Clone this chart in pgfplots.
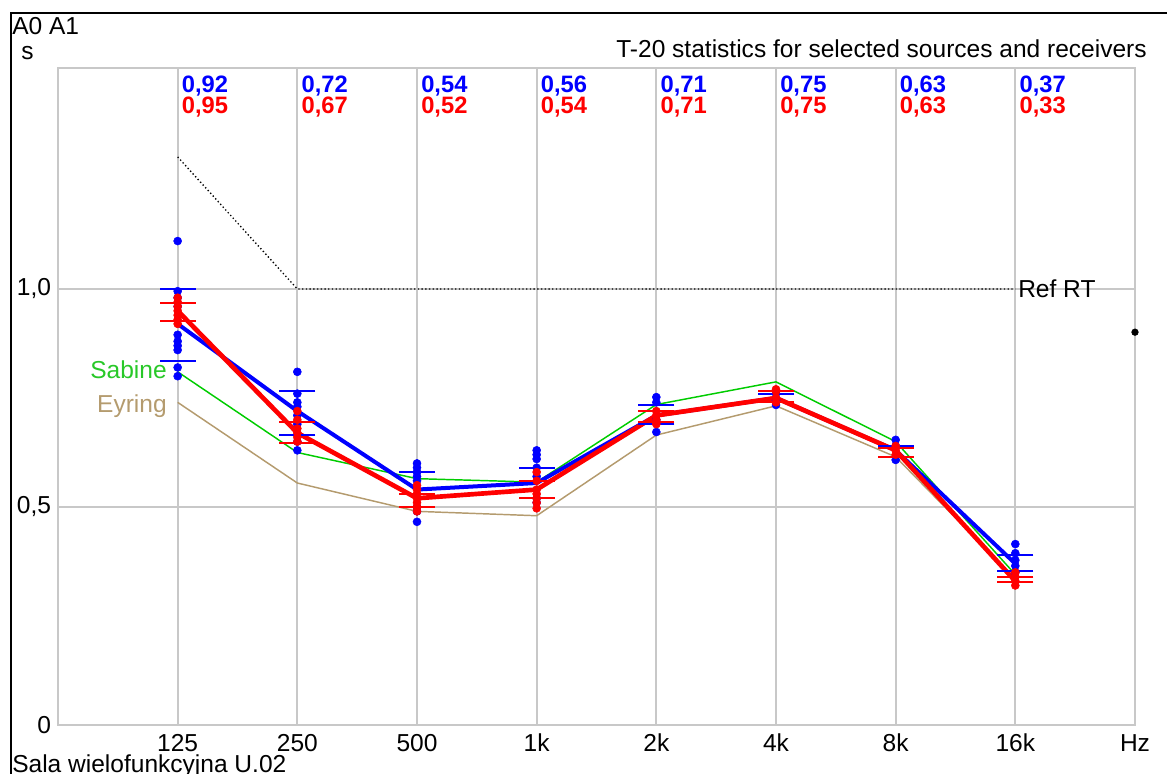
\documentclass[border=0pt]{standalone}
\usepackage{fontspec}
\setmainfont{Liberation Sans}
\usepackage{pgfplots}
\pgfplotsset{compat=1.18}
\definecolor{gridgray}{RGB}{200,200,200}
\definecolor{sabine}{RGB}{0,204,0}
\definecolor{eyring}{RGB}{180,155,110}
\definecolor{sabinetxt}{RGB}{40,200,40}
\definecolor{myblue}{RGB}{0,0,255}
\definecolor{myred}{RGB}{255,0,0}
\newcommand{\px}[2]{({(#1-58)*0.75pt},{(725-#2)*0.75pt})}
\newcommand{\fs}{\fontsize{18.4}{21}\selectfont}
\newcommand{\fb}{\fontsize{17.8}{20}\selectfont\bfseries}
\begin{document}
\begin{tikzpicture}[font=\fs]
\path[use as bounding box] \px{0}{0} rectangle \px{1167}{774};
\begin{axis}[
  at={(0,0)}, anchor=south west,
  scale only axis, width=807.75pt, height=492.75pt,
  xmin=0, xmax=9, ymin=0, ymax=1.5069,
  axis line style={gridgray, line width=1.3pt},
  grid=major, grid style={gridgray, line width=1.3pt},
  major tick length=0pt,
  xtick={1,2,3,4,5,6,7,8,9}, xticklabels={125,250,500,1k,2k,4k,8k,16k,Hz},
  ytick={0,0.5,1}, yticklabels={0,{0,5},{1,0}},
  x tick label style={anchor=base, yshift=-20pt, font=\fs},
  y tick label style={anchor=east, inner sep=0pt, xshift=-5pt, font=\fs},
  clip=false,
]
% Sabine and Eyring
\addplot[sabine, line width=1.1pt] coordinates {(1,0.81)(2,0.625)(3,0.565)(4,0.557)(5,0.735)(6,0.787)(7,0.65)(8,0.345)};
\addplot[eyring, line width=1.1pt] coordinates {(1,0.74)(2,0.555)(3,0.49)(4,0.48)(5,0.665)(6,0.732)(7,0.615)(8,0.335)};
% Reference RT
\addplot[black, line width=1pt, dash pattern=on 1pt off 1.8pt] coordinates {(1,1.303)(2,1.0)(8,1.0)};
% Blue (A0) measurements
\addplot[only marks, mark=*, mark size=3pt, myblue] coordinates {
 (1,1.11)(1,0.995)(1,0.98)(1,0.96)(1,0.895)(1,0.88)(1,0.87)(1,0.86)(1,0.82)(1,0.80)
 (2,0.81)(2,0.76)(2,0.74)(2,0.73)(2,0.71)(2,0.69)(2,0.65)(2,0.63)
 (3,0.60)(3,0.59)(3,0.58)(3,0.57)(3,0.56)(3,0.50)(3,0.49)(3,0.466)
 (4,0.63)(4,0.62)(4,0.61)(4,0.59)(4,0.57)(4,0.52)(4,0.51)
 (5,0.752)(5,0.74)(5,0.70)(5,0.672)
 (6,0.76)(6,0.745)(6,0.734)
 (7,0.654)(7,0.64)(7,0.608)
 (8,0.415)(8,0.394)(8,0.378)(8,0.365)(8,0.35)};
\addplot[only marks, mark=-, mark size=13.5pt, myblue, mark options={line width=1.5pt}] coordinates {
 (1,1.0)(1,0.835)(2,0.765)(2,0.665)(3,0.58)(3,0.50)(4,0.59)(4,0.52)
 (5,0.735)(5,0.69)(6,0.76)(6,0.74)(7,0.64)(7,0.615)(8,0.39)(8,0.353)};
\addplot[myblue, line width=3pt, line join=round] coordinates {(1,0.92)(2,0.72)(3,0.54)(4,0.555)(5,0.71)(6,0.75)(7,0.63)(8,0.37)};
% Red (A1) measurements
\addplot[only marks, mark=*, mark size=3pt, myred] coordinates {
 (1,0.98)(1,0.97)(1,0.96)(1,0.95)(1,0.94)(1,0.93)(1,0.92)
 (2,0.72)(2,0.70)(2,0.68)(2,0.67)(2,0.66)(2,0.65)
 (3,0.55)(3,0.54)(3,0.53)(3,0.52)(3,0.51)(3,0.50)(3,0.49)
 (4,0.58)(4,0.56)(4,0.54)(4,0.53)(4,0.52)(4,0.51)(4,0.497)
 (5,0.72)(5,0.71)(5,0.70)(5,0.69)
 (6,0.77)(6,0.765)(6,0.75)(6,0.74)
 (7,0.64)(7,0.63)(7,0.62)
 (8,0.35)(8,0.34)(8,0.33)(8,0.32)};
\addplot[only marks, mark=-, mark size=13.5pt, myred, mark options={line width=1.5pt}] coordinates {
 (1,0.968)(1,0.927)(2,0.695)(2,0.647)(3,0.53)(3,0.50)(4,0.56)(4,0.52)
 (5,0.72)(5,0.695)(6,0.765)(6,0.74)(7,0.635)(7,0.615)(8,0.34)(8,0.328)};
\addplot[myred, line width=3.5pt, line join=round] coordinates {(1,0.95)(2,0.67)(3,0.52)(4,0.54)(5,0.71)(6,0.75)(7,0.63)(8,0.33)};
% single point at right edge
\addplot[only marks, mark=*, mark size=2.5pt, black] coordinates {(9,0.901)};
% value labels
\foreach \i/\v in {1/{0,92},2/{0,72},3/{0,54},4/{0,56},5/{0,71},6/{0,75},7/{0,63},8/{0,37}}{
  \edef\tmp{\noexpand\node[anchor=base west, inner sep=0pt, xshift=3pt, text=myblue, font=\noexpand\fb] at (axis cs:\i,1.4518) {\v};}\tmp
}
\foreach \i/\v in {1/{0,95},2/{0,67},3/{0,52},4/{0,54},5/{0,71},6/{0,75},7/{0,63},8/{0,33}}{
  \edef\tmp{\noexpand\node[anchor=base west, inner sep=0pt, xshift=3pt, text=myred, font=\noexpand\fb] at (axis cs:\i,1.4014) {\v};}\tmp
}
\end{axis}
\node[anchor=base west, inner sep=0pt] at \px{1018}{298} {Ref RT};
\node[anchor=base east, inner sep=0pt, text=sabinetxt] at \px{167}{379} {Sabine};
\node[anchor=base east, inner sep=0pt, text=eyring] at \px{167}{413} {Eyring};
\node[anchor=base west, inner sep=0pt] at \px{12}{35} {A0 A1};
\node[anchor=base west, inner sep=0pt] at \px{21}{60} {s};
\node[anchor=base east, inner sep=0pt] at \px{1147}{58} {T-20 statistics for selected sources and receivers};
\node[anchor=base west, inner sep=0pt] at \px{12}{773} {Sala wielofunkcyjna U.02};
\draw[black, line width=1.6pt] \px{11}{780} -- \px{11}{13} -- \px{1170}{13};
\end{tikzpicture}
\end{document}
